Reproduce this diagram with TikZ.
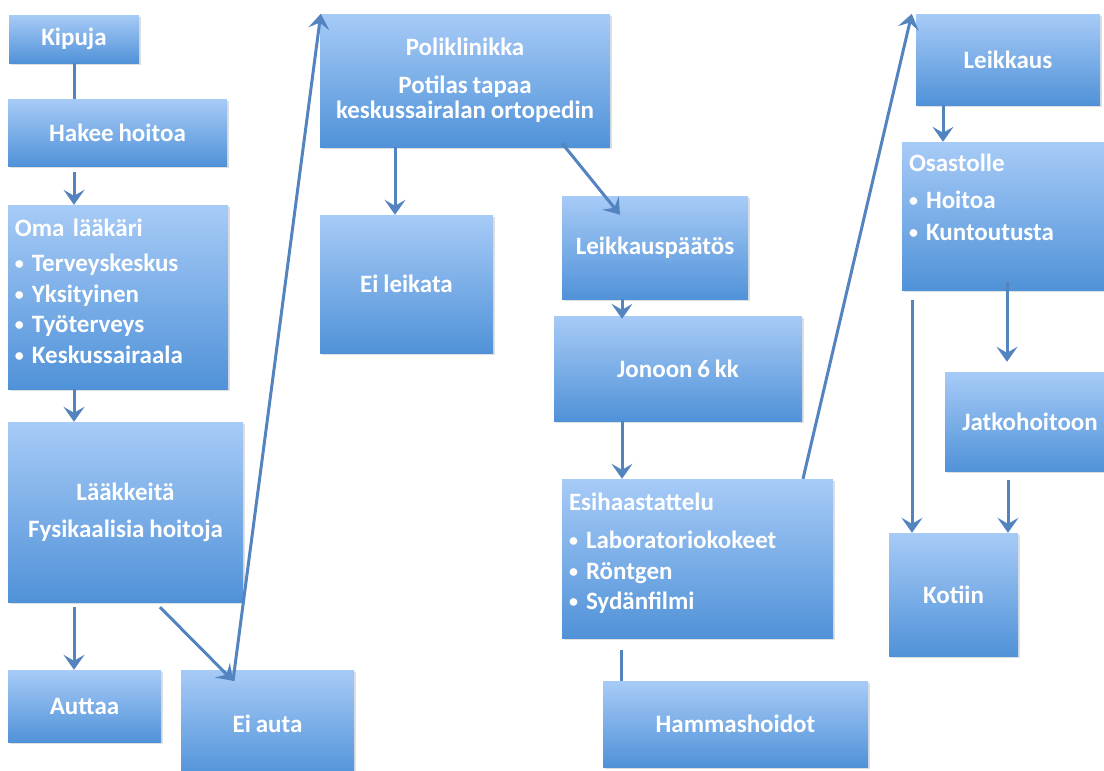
\documentclass[tikz,border=0pt]{standalone}
\usepackage{fontspec}
\setmainfont{Carlito}[WordSpace=0.85]
\usetikzlibrary{arrows.meta}
\usetikzlibrary{shadows}

\definecolor{boxtop}{RGB}{167,203,247}
\definecolor{boxbot}{RGB}{80,146,216}
\definecolor{flowblue}{RGB}{84,132,192}

\newcommand{\itemdot}{\makebox[17pt][l]{\fontsize{18}{18}\selectfont\raisebox{1.5pt}{•}}}

\tikzset{
  stage/.style={inner sep=6pt, top color=boxtop, bottom color=boxbot,
    text=white, font=\fontsize{25}{28}\selectfont\bfseries, align=center,
    drop shadow={shadow xshift=1.5pt, shadow yshift=-2pt, opacity=.25}},
  listbox/.style={stage, align=left, inner ysep=0pt, inner xsep=7pt},
  link/.style={line width=3pt, flowblue},
  flow/.style={link, -{Stealth[length=15pt,width=21pt,inset=6pt]}}
}

\begin{document}
\begin{tikzpicture}[x=1pt,y=-1pt]
\useasboundingbox (0,0) rectangle (1104,771);
% first column
\node[stage, minimum width=130, minimum height=48] (kipuja) at (74,39) {Kipuja};
\node[stage, minimum width=219, minimum height=67] (hakee) at (117.5,132.5) {Hakee hoitoa};
\node[listbox, minimum width=220, text width=206, text height=31pt, text depth=153pt] (oma) at (118,297)
  {Oma lääkäri\\[7pt]\itemdot Terveyskeskus\\[3pt]\itemdot Yksityinen\\[2pt]\itemdot Työterveys\\[3pt]\itemdot Keskussairaala};
\node[stage, minimum width=235, minimum height=180] (laake) at (125.5,512) {Lääkkeitä\\[9pt]Fysikaalisia hoitoja};
\node[stage, minimum width=153, minimum height=72] (auttaa) at (84.5,706) {Auttaa};
\node[stage, minimum width=173, minimum height=108] (eiauta) at (267.5,724) {Ei auta};
% second column
\node[stage, minimum width=290, minimum height=133, font=\fontsize{25}{25}\selectfont\bfseries] (poli) at (465,80.5)
  {Poliklinikka\\[13pt]Potilas tapaa\\keskussairalan ortopedin};
\node[stage, minimum width=173, minimum height=138] (eileik) at (406.5,284) {Ei leikata};
% third column
\node[stage, minimum width=186, minimum height=103] (paatos) at (655,247.5) {Leikkauspäätös};
\node[stage, minimum width=248, minimum height=105] (jonoon) at (678,368.5) {Jonoon 6 kk};
\node[listbox, minimum width=271, text width=257, text height=31pt, text depth=128pt] (esi) at (697.5,558.5)
  {Esihaastattelu\\[10pt]\itemdot Laboratoriokokeet\\[3pt]\itemdot Röntgen\\[2pt]\itemdot Sydänfilmi};
\node[stage, minimum width=265, minimum height=86] (hammas) at (735.5,724) {Hammashoidot};
% fourth column
\node[stage, minimum width=184, minimum height=91] (leikkaus) at (1008,59.5) {Leikkaus};
\node[listbox, minimum width=210, text width=196, text height=29pt, text depth=119pt] (osasto) at (1007,216)
  {Osastolle\\[9pt]\itemdot Hoitoa\\[4pt]\itemdot Kuntoutusta};
\node[stage, minimum width=170, minimum height=99] (jatko) at (1030,421.5) {Jatkohoitoon};
\node[stage, minimum width=129, minimum height=123] (kotiin) at (953.5,594.5) {Kotiin};

\coordinate (eitip) at ([xshift=-34.5pt,yshift=-11pt]eiauta.north);

% connectors
\draw[link] (kipuja.south) -- (kipuja.south |- hakee.north);
\draw[flow] ([yshift=-6pt]hakee.south -| kipuja.south) -- (oma.north -| kipuja.south);
\draw[flow] (oma.south -| kipuja.south) -- (laake.north -| kipuja.south);
\draw[flow] ([yshift=-5pt]laake.south -| kipuja.south) -- (auttaa.north -| kipuja.south);
\draw[flow] ([xshift=34.5pt,yshift=-5pt]laake.south) -- (eitip);
\draw[flow] (eitip) -- ([xshift=1pt]poli.north west);
\draw[flow] ([xshift=-11.5pt]eileik.north |- poli.south) -- ([xshift=-11.5pt]eileik.north);
\draw[flow] ([xshift=97pt,yshift=4pt]poli.south) -- ([xshift=-35pt,yshift=-19pt]paatos.north);
\draw[flow] ([xshift=-33pt]paatos.south) -- ([xshift=-33pt,yshift=-3pt]paatos.south |- jonoon.north);
\draw[flow] ([xshift=-56pt]jonoon.south) -- ([xshift=-75.5pt]esi.north);
\draw[link] ([xshift=-76.5pt,yshift=-12pt]esi.south) -- ([xshift=-114.5pt]hammas.north);
\draw[flow] ([xshift=105.5pt]esi.north) -- ([xshift=-4pt]leikkaus.north west);
\draw[flow] ([xshift=-65pt]leikkaus.south) -- ([xshift=-64pt]osasto.north);
\draw[flow] ([xshift=-95pt,yshift=-10pt]osasto.south) -- ([xshift=-41.5pt]kotiin.north);
\draw[flow] ([yshift=8pt]osasto.south) -- ([xshift=-23pt,yshift=10pt]jatko.north);
\draw[flow] ([xshift=-22pt,yshift=-9pt]jatko.south) -- ([xshift=54.5pt]kotiin.north);
\end{tikzpicture}
\end{document}
